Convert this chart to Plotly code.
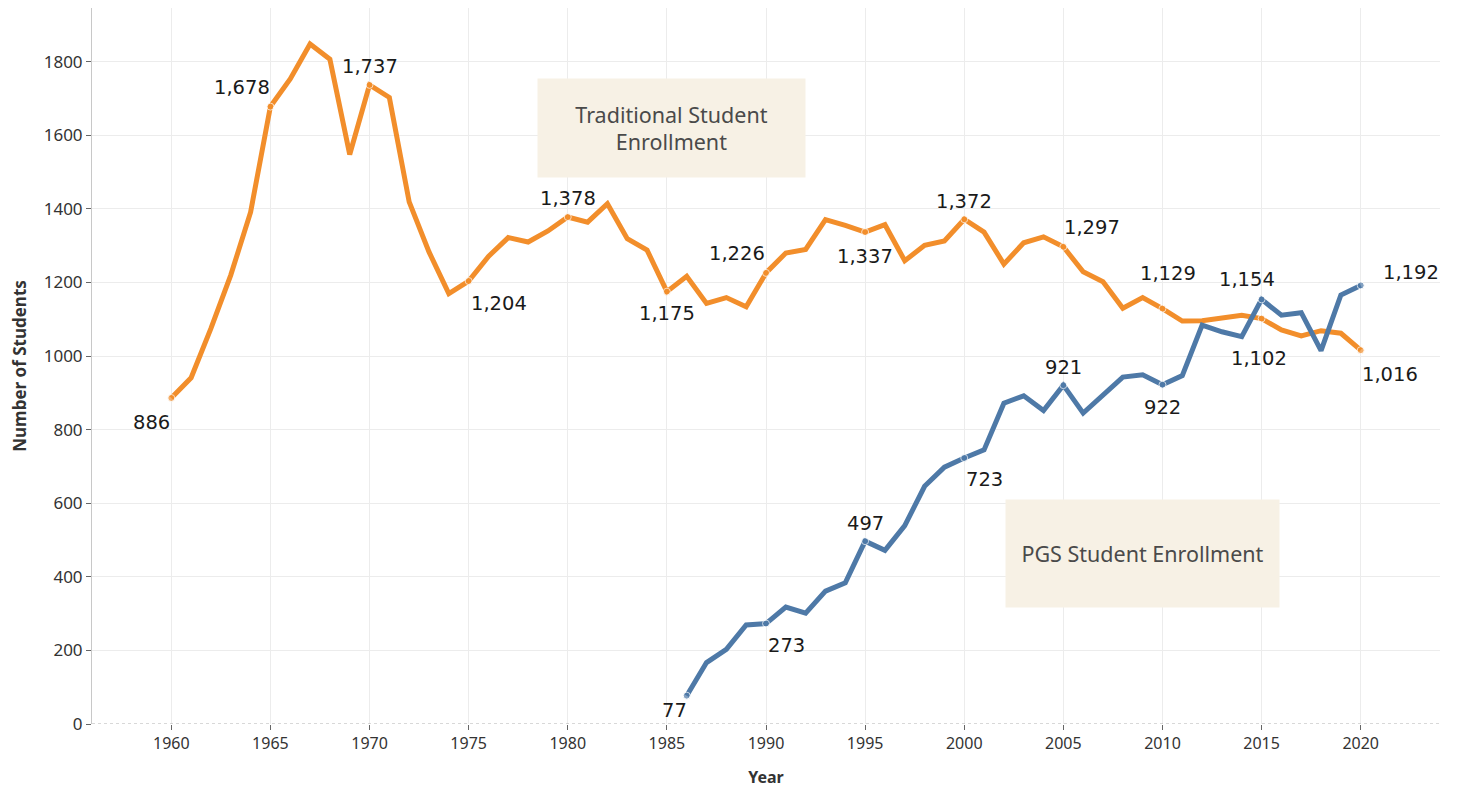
import plotly.graph_objects as go

# Traditional enrollment, 1960-2020
trad_years = list(range(1960, 2021))
trad_students = [
    886, 941, 1075, 1220, 1391, 1678, 1753, 1848, 1807, 1548,
    1737, 1703, 1419, 1283, 1170, 1204, 1271, 1322, 1310, 1340,
    1378, 1364, 1414, 1319, 1288, 1175, 1217, 1143, 1159, 1134,
    1226, 1280, 1290, 1371, 1355, 1337, 1357, 1259, 1301, 1313,
    1372, 1337, 1250, 1308, 1324, 1297, 1229, 1202, 1130, 1159,
    1129, 1095, 1096, 1104, 1111, 1102, 1071, 1055, 1069, 1062, 1016,
]

# PGS enrollment, 1986-2020
pgs_years = list(range(1986, 2021))
pgs_students = [
    77, 167, 203, 269, 273, 318, 301, 361, 384, 497,
    472, 539, 646, 698, 723, 745, 872, 892, 852, 921,
    845, 895, 943, 949, 922, 947, 1084, 1066, 1053, 1154,
    1111, 1118, 1015, 1166, 1192,
]

trad_label_years = [1960, 1965, 1970, 1975, 1980, 1985, 1990, 1995, 2000, 2005, 2010, 2015, 2020]
pgs_label_years = [1986, 1990, 1995, 2000, 2005, 2010, 2015, 2020]

x_ticks = list(range(1960, 2021, 5))
y_ticks = list(range(0, 1801, 200))

ORANGE = "#F28E2B"
BLUE = "#4E79A7"

# label offsets in pixels (dx, dy), dy positive = down
trad_offsets = {
    1960: (-20, 24), 1965: (-28, -19), 1970: (0, -18), 1975: (30, 22),
    1980: (0, -18), 1985: (0, 22), 1990: (-29, -19), 1995: (0, 24),
    2000: (0, -18), 2005: (29, -19), 2010: (6, -35), 2015: (-3, 40),
    2020: (29, 24),
}
pgs_offsets = {
    1986: (-12, 15), 1990: (20, 22), 1995: (0, -18), 2000: (20, 22),
    2005: (0, -18), 2010: (0, 23), 2015: (-15, -20), 2020: (50, -13),
}

fig = go.Figure()


def add_series(years, values, label_years, color, name):
    sizes = [7 if y in label_years else 0 for y in years]
    fig.add_trace(go.Scatter(
        x=years, y=values, mode="lines+markers", name=name,
        line=dict(color=color, width=5),
        marker=dict(color=color, size=sizes),
        hoverinfo="x+y",
    ))


add_series(trad_years, trad_students, trad_label_years, ORANGE, "Traditional")
add_series(pgs_years, pgs_students, pgs_label_years, BLUE, "PGS")

annotations = []
for years, values, offsets in [(trad_years, trad_students, trad_offsets),
                               (pgs_years, pgs_students, pgs_offsets)]:
    for yr, (dx, dy) in offsets.items():
        v = values[years.index(yr)]
        annotations.append(dict(
            x=yr, y=v, text=f"{v:,}", showarrow=False,
            xanchor="center", yanchor="middle",
            xshift=dx, yshift=-dy,
            font=dict(family="DejaVu Sans", size=19.5, color="#1a1a1a"),
        ))

# caption boxes
box_font = dict(family="Noto Sans", size=21.5, color="#4a4a4a")
annotations.append(dict(
    x=1985.24, y=1620, xref="x", yref="y", showarrow=False,
    text="Traditional Student<br>Enrollment", font=box_font,
    bgcolor="#F7F1E5", width=267, height=98, borderpad=0,
    xanchor="center", yanchor="middle",
))
annotations.append(dict(
    x=2009.0, y=464, xref="x", yref="y", showarrow=False,
    text="PGS Student Enrollment", font=box_font,
    bgcolor="#F7F1E5", width=273, height=107, borderpad=0,
    xanchor="center", yanchor="middle",
))

# page body adds an 8px offset, margins compensate for it
fig.update_layout(
    width=1458, height=789,
    margin=dict(l=84, r=26, t=0, b=73),
    plot_bgcolor="white", paper_bgcolor="white",
    showlegend=False,
    annotations=annotations,
    font=dict(family="Noto Sans", color="#333333"),
)

fig.update_xaxes(
    range=[1956, 2024], tickvals=x_ticks,
    showgrid=True, gridcolor="#ececec", gridwidth=1,
    zeroline=False, showline=False,
    ticks="outside", ticklen=5, tickcolor="#666666",
    tickfont=dict(family="Noto Sans", size=16, color="#333333"),
    title=dict(text="<b>Year</b>", font=dict(family="Noto Sans", size=16, color="#333333"), standoff=18),
)
fig.update_yaxes(
    range=[0, 1946], tickvals=y_ticks,
    showgrid=True, gridcolor="#ececec", gridwidth=1,
    zeroline=False, showline=True, linecolor="#c8c8c8", linewidth=1,
    ticks="outside", ticklen=5, tickcolor="#666666",
    tickfont=dict(family="Noto Sans", size=17, color="#333333"),
    title=dict(text="<b>Number of Students</b>", font=dict(family="Noto Sans", size=17, color="#333333"), standoff=16),
)

# dotted baseline at zero
fig.add_shape(type="line", xref="paper", yref="y", x0=0, x1=1, y0=0, y1=0,
              line=dict(color="#b0b0b0", width=1, dash="dot"))

fig.write_html("out.html")
